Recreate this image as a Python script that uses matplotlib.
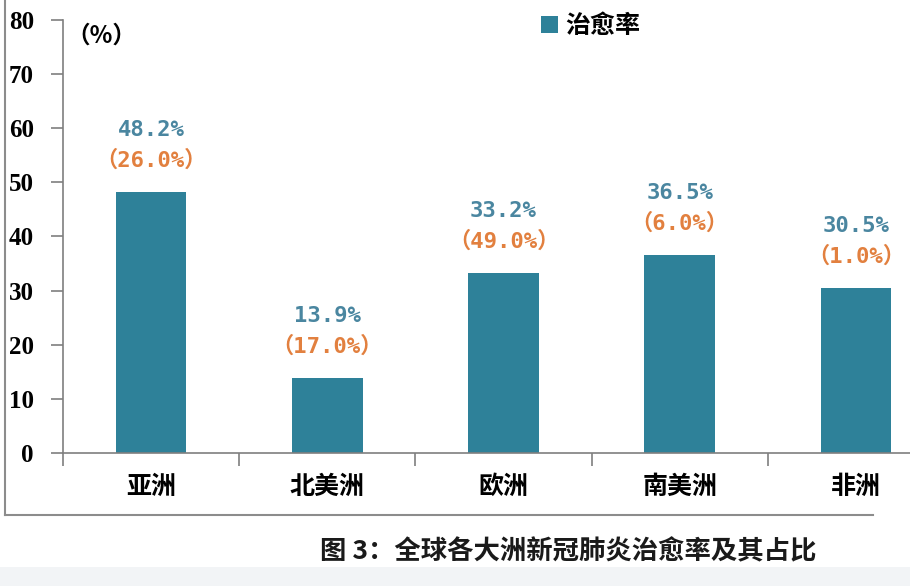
import matplotlib
matplotlib.use("Agg")
import matplotlib.pyplot as plt
from matplotlib.lines import Line2D
from matplotlib.patches import Rectangle

continents = ["亚洲", "北美洲", "欧洲", "南美洲", "非洲"]
cure_rate = [48.2, 13.9, 33.2, 36.5, 30.5]
share = [26.0, 17.0, 49.0, 6.0, 1.0]

W, H = 910, 586
bar_color = "#2e8199"
blue_txt = "#4a86a0"
orange_txt = "#e2803f"
cjk = ["Noto Sans CJK SC", "DejaVu Sans"]
lab_font = ["DejaVu Sans Mono", "Noto Sans CJK SC"]
serif = "Liberation Serif"

fig = plt.figure(figsize=(W / 100, H / 100), dpi=100)

# axes placed in pixel terms; right side runs past the image like the reference crop
x0, x1 = 63, 944
y_top, y_bot = 20, 453
ax = fig.add_axes([x0 / W, 1 - y_bot / H, (x1 - x0) / W, (y_bot - y_top) / H])

x = list(range(len(continents)))
ax.bar(x, cure_rate, width=0.4, color=bar_color, label="治愈率", zorder=2)
ax.set_xlim(-0.5, len(continents) - 0.5)
ax.set_ylim(0, 80)

ax.spines["top"].set_visible(False)
ax.spines["right"].set_visible(False)
for s in ("left", "bottom"):
    ax.spines[s].set_color("#7f7f7f")
    ax.spines[s].set_linewidth(1.2)

ax.set_yticks(range(0, 81, 10))
ax.set_yticklabels([str(v) for v in range(0, 81, 10)],
                   fontfamily=serif, fontweight="bold", fontsize=18)
ax.tick_params(axis="y", direction="out", length=9, width=1.2, color="#7f7f7f", pad=12)

# category ticks sit at boundaries
ax.set_xticks([i - 0.5 for i in range(len(continents) + 1)])
ax.set_xticklabels([])
ax.tick_params(axis="x", direction="out", length=9, width=1.2, color="#7f7f7f")
for i, name in enumerate(continents):
    ax.text(i, -6.3, name, ha="center", va="center", fontsize=18,
            fontweight="bold", family=cjk)

for i, (v, s) in enumerate(zip(cure_rate, share)):
    ax.annotate(f"{v:.1f}%", (i, v), xytext=(0, 62), textcoords="offset pixels",
                ha="center", va="center", fontsize=16, color=blue_txt,
                family=lab_font, fontweight="bold")
    ax.annotate(f"（{s:.1f}%）", (i, v), xytext=(0, 32), textcoords="offset pixels",
                ha="center", va="center", fontsize=16, color=orange_txt,
                family=lab_font, fontweight="bold")

ax.text((66 - x0) / (x1 - x0), 0.965, "（%）", transform=ax.transAxes, ha="left",
        va="center", fontsize=17, fontweight="bold", family=cjk)

leg = ax.legend(loc="upper left", bbox_to_anchor=((518 - x0) / (x1 - x0), 1.065),
                frameon=False, handlelength=0.7, handleheight=0.7,
                handletextpad=0.3, prop={"family": cjk, "weight": "bold", "size": 18})

# outer frame of the original figure
fig.add_artist(Line2D([5 / W, 5 / W], [1 - 515 / H, 1], color="#8c8c8c", lw=1.5))
fig.add_artist(Line2D([5 / W, 873 / W], [1 - 515 / H, 1 - 515 / H], color="#8c8c8c", lw=1.5))

# light strip at the very bottom
fig.add_artist(Rectangle((0, 0), 1, (H - 567) / H, transform=fig.transFigure,
                         color="#f2f4f6", lw=0))

fig.text(568 / W, 1 - 552 / H, "图 3：全球各大洲新冠肺炎治愈率及其占比",
         ha="center", va="center", fontsize=19, fontweight="bold", family=cjk,
         color="#1a1a1a")

fig.savefig("out.png", dpi=100)
